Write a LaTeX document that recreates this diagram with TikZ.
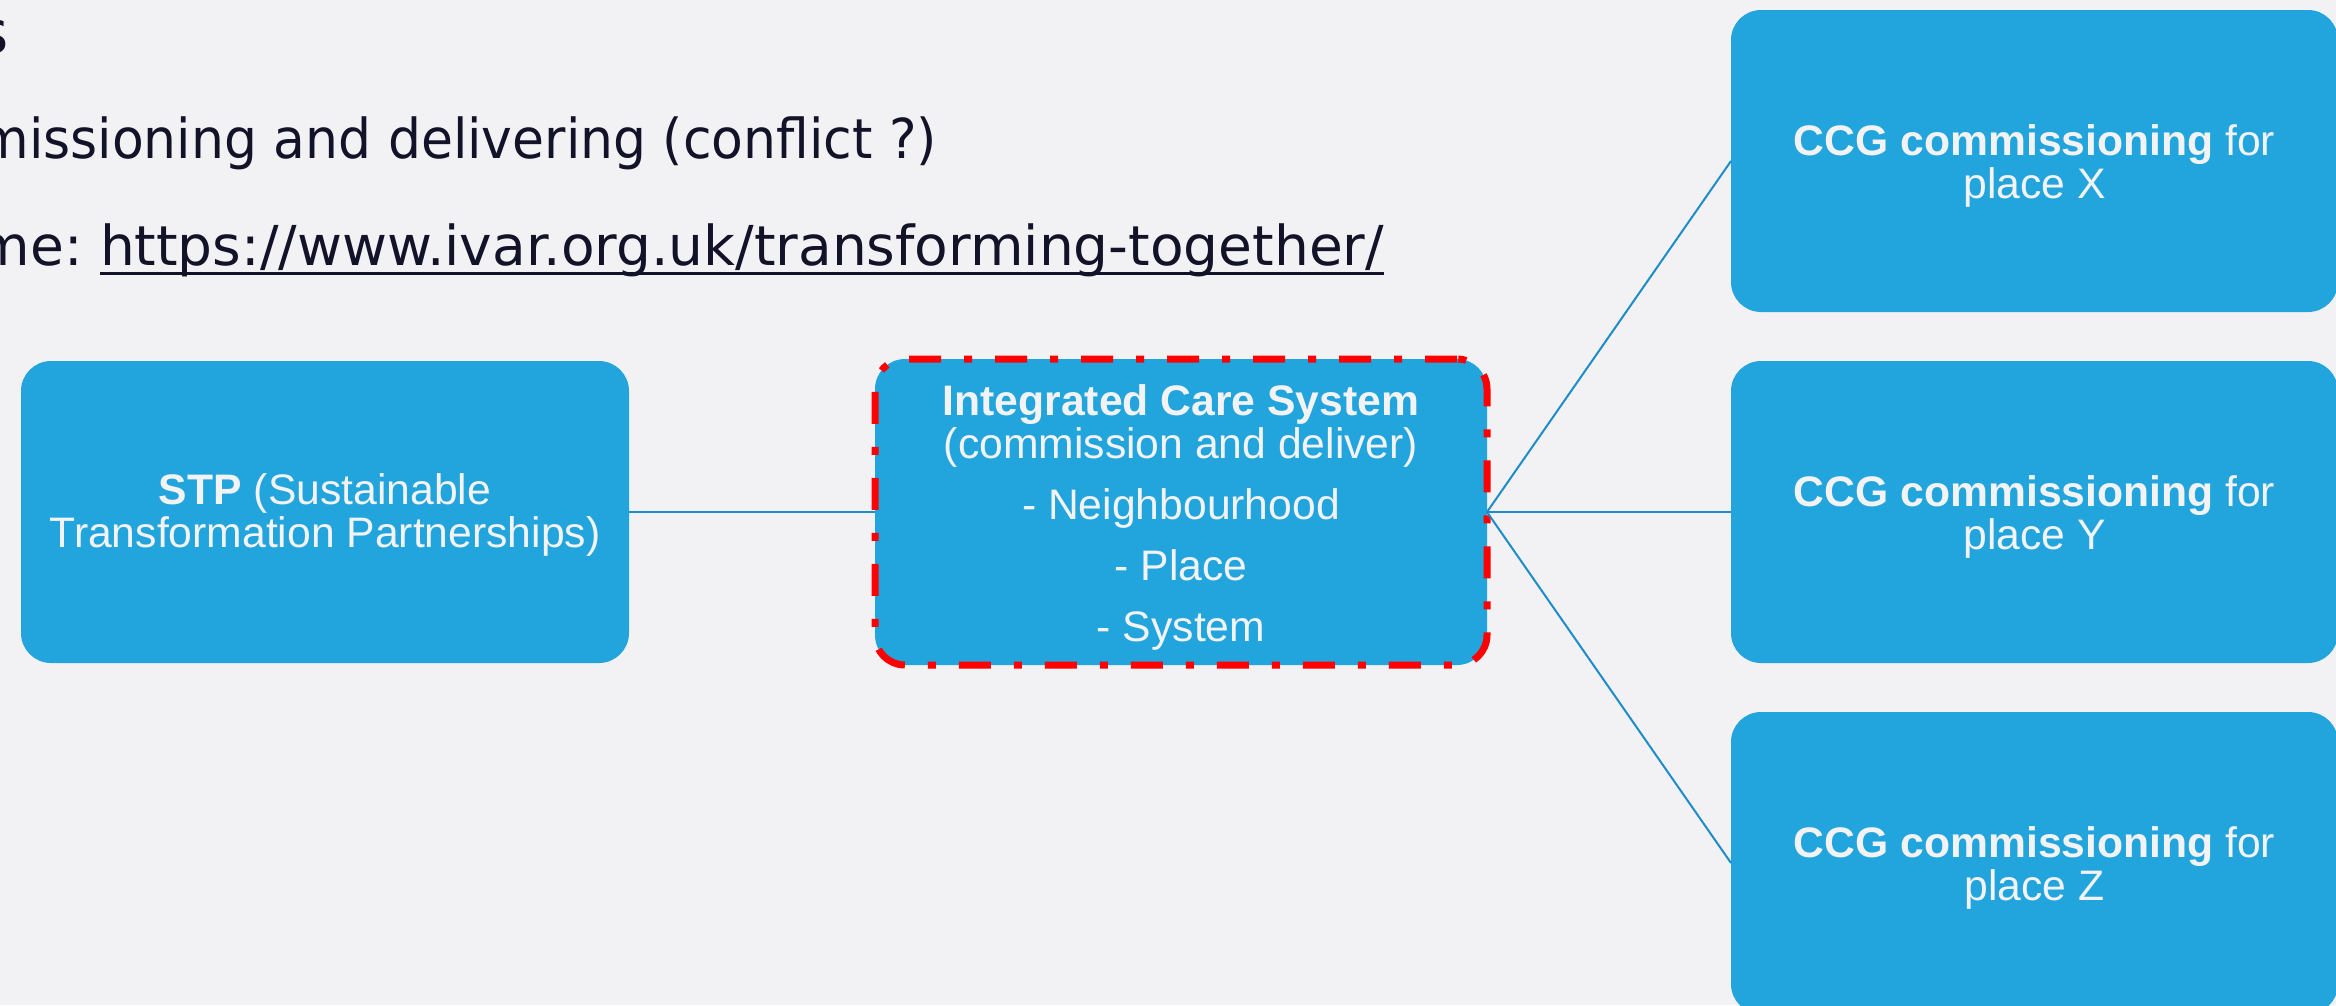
\documentclass[tikz,border=0pt]{standalone}
\usepackage{fontspec}
\setmainfont{Liberation Sans}
\newfontfamily\slidefont{DejaVu Sans}
\definecolor{bgc}{RGB}{242,242,244}
\definecolor{boxblue}{RGB}{34,165,221}
\definecolor{linkblue}{RGB}{30,140,200}
\definecolor{boxtext}{RGB}{243,243,245}
\definecolor{slidetext}{RGB}{18,18,40}
\definecolor{icsred}{RGB}{255,0,0}
\newcommand{\toppad}{\rule{0pt}{12.4pt}}
\begin{document}
\begin{tikzpicture}[x=0.3pt,y=-0.3pt,
  bluebox/.style={rectangle, rounded corners=9pt, fill=boxblue, text=boxtext,
    align=center, inner sep=0pt, outer sep=0pt,
    font=\fontsize{12.8}{12.9}\selectfont,
    minimum height=90.6pt, minimum width=182.1pt},
  icsbox/.style={bluebox, minimum width=183.6pt, minimum height=91.8pt,
    draw=icsred, line width=2.1pt,
    dash pattern=on 9.6pt off 6.9pt on 2.4pt off 6.9pt},
  connector/.style={draw=linkblue, line width=0.6pt},
  slideline/.style={font=\slidefont\fontsize{16.5}{18}\selectfont,
    text=slidetext, inner sep=0pt, outer sep=0pt}
]
\useasboundingbox (0,0) rectangle (2336,1005);
\fill[bgc] (0,0) rectangle (2336,1005);
\clip (0,0) rectangle (2336,1005);

% slide text (cut off at the left)
\node[slideline, font=\slidefont\fontsize{18}{20}\selectfont, anchor=base east] (head) at (9,53) {s};
\node[slideline, anchor=base east] (line2) at (937,158) {\scalebox{0.945}[1]{missioning and delivering (conflict ?)}};
\node[slideline, anchor=base west] (url) at (100,265) {https://www.ivar.org.uk/transforming-together/};
\node[slideline, anchor=base east] (me) at ([xshift=-5.2pt]url.base west) {me:};
\draw[slidetext, line width=0.9pt] ([yshift=-2.4pt]url.base west) -- ([yshift=-2.4pt]url.base east);

% boxes
\node[bluebox, minimum width=182.4pt] (stp) at (325,512)
  {\rule{0pt}{11.2pt}\textbf{STP} (Sustainable\\Transformation Partnerships)};
\node[icsbox] (ics) at (1181,512)
  {\toppad\textbf{Integrated Care System}\\(commission and deliver)\\[5.6pt]- Neighbourhood\\[5.4pt]- Place\\[5.2pt]- System};
\node[bluebox] (ccgx) at (2034.5,161) {\toppad\textbf{CCG commissioning} for\\place X};
\node[bluebox] (ccgy) at (2034.5,512) {\toppad\textbf{CCG commissioning} for\\place Y};
\node[bluebox] (ccgz) at (2034.5,863) {\toppad\textbf{CCG commissioning} for\\place Z};

% connectors
\draw[connector] (stp.east) -- (ics.west);
\draw[connector] (ics.east) -- (ccgx.west);
\draw[connector] (ics.east) -- (ccgy.west);
\draw[connector] (ics.east) -- (ccgz.west);
\end{tikzpicture}
\end{document}
